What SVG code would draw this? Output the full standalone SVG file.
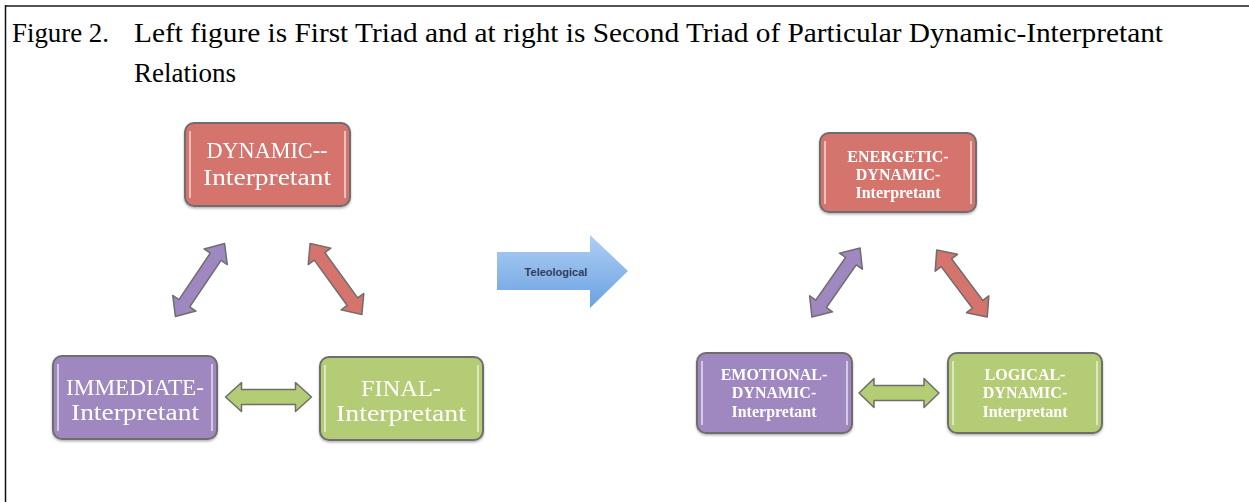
<svg xmlns="http://www.w3.org/2000/svg" width="1249" height="502" viewBox="0 0 1249 502">
<style>
.title{font-family:"Liberation Serif","Times New Roman",serif;font-size:27px;fill:#000}
.box{stroke:#6e6e6e;stroke-width:2}
.hl{stroke:#ffffff;stroke-opacity:0.55;stroke-width:2}
.bt{font-family:"Liberation Serif","DejaVu Serif",serif;font-size:24px;fill:#ffffff;text-anchor:middle}
.st{font-family:"Liberation Serif","DejaVu Serif",serif;font-size:16px;font-weight:bold;fill:#ffffff;text-anchor:middle}
.arr{stroke:#6e6e6e;stroke-width:1.5;stroke-linejoin:round}
.red{fill:#d5736d}
.pur{fill:#9f87bf}
.grn{fill:#b4cc74}
</style>
<defs>
<linearGradient id="blue" x1="0" y1="0" x2="0" y2="1">
<stop offset="0" stop-color="#afcff3"/>
<stop offset="1" stop-color="#6ba1e2"/>
</linearGradient>
<filter id="sh" x="-10%" y="-10%" width="120%" height="130%">
<feDropShadow dx="0" dy="1.5" stdDeviation="1.2" flood-color="#000" flood-opacity="0.3"/>
</filter>
</defs>
<rect x="0" y="0" width="1249" height="502" fill="#ffffff"/>
<line x1="5" y1="6" x2="1249" y2="6" stroke="#555" stroke-width="2"/>
<line x1="5.5" y1="5" x2="5.5" y2="502" stroke="#111" stroke-width="1.5"/>
<text class="title" x="12" y="42" textLength="97" lengthAdjust="spacingAndGlyphs">Figure 2.</text>
<text class="title" x="134" y="42" textLength="1029" lengthAdjust="spacingAndGlyphs">Left figure is First Triad and at right is Second Triad of Particular Dynamic-Interpretant</text>
<text class="title" x="134" y="82">Relations</text>

<g id="dynamic" filter="url(#sh)">
<rect class="box red" x="185" y="123" width="165" height="83" rx="9"/>
<line class="hl" x1="190" y1="131" x2="190" y2="198"/>
<line class="hl" x1="345" y1="131" x2="345" y2="198"/>
<text class="bt" x="267" y="158" textLength="121" lengthAdjust="spacingAndGlyphs">DYNAMIC--</text>
<text class="bt" x="267" y="185" textLength="128" lengthAdjust="spacingAndGlyphs">Interpretant</text>
</g>
<g id="immediate" filter="url(#sh)">
<rect class="box pur" x="53" y="356" width="164" height="83" rx="9"/>
<line class="hl" x1="58" y1="364" x2="58" y2="431"/>
<line class="hl" x1="212" y1="364" x2="212" y2="431"/>
<text class="bt" x="135" y="395" textLength="138" lengthAdjust="spacingAndGlyphs">IMMEDIATE-</text>
<text class="bt" x="135" y="420" textLength="128" lengthAdjust="spacingAndGlyphs">Interpretant</text>
</g>
<g id="final" filter="url(#sh)">
<rect class="box grn" x="320" y="357" width="163" height="83" rx="9"/>
<line class="hl" x1="325" y1="365" x2="325" y2="432"/>
<line class="hl" x1="478" y1="365" x2="478" y2="432"/>
<text class="bt" x="401" y="396" textLength="80" lengthAdjust="spacingAndGlyphs">FINAL-</text>
<text class="bt" x="401" y="421" textLength="130" lengthAdjust="spacingAndGlyphs">Interpretant</text>
</g>

<g id="teleological">
<path d="M497,252 L590,252 L590,235 L628,271 L590,308 L590,290 L497,290 Z" fill="url(#blue)"/>
<text x="556" y="276" font-family="'Liberation Sans','DejaVu Sans',sans-serif" font-size="11" font-weight="bold" fill="#2e3d5a" text-anchor="middle">Teleological</text>
</g>

<g id="energetic" filter="url(#sh)">
<rect class="box red" x="820" y="133" width="156" height="79" rx="9"/>
<line class="hl" x1="825" y1="141" x2="825" y2="204"/>
<line class="hl" x1="971" y1="141" x2="971" y2="204"/>
<text class="st" x="898" y="162">ENERGETIC-</text>
<text class="st" x="898" y="180">DYNAMIC-</text>
<text class="st" x="898" y="198">Interpretant</text>
</g>
<g id="emotional" filter="url(#sh)">
<rect class="box pur" x="697" y="353" width="155" height="80" rx="9"/>
<line class="hl" x1="702" y1="361" x2="702" y2="425"/>
<line class="hl" x1="847" y1="361" x2="847" y2="425"/>
<text class="st" x="774" y="380">EMOTIONAL-</text>
<text class="st" x="774" y="398">DYNAMIC-</text>
<text class="st" x="774" y="417">Interpretant</text>
</g>
<g id="logical" filter="url(#sh)">
<rect class="box grn" x="948" y="353" width="154" height="80" rx="9"/>
<line class="hl" x1="953" y1="361" x2="953" y2="425"/>
<line class="hl" x1="1097" y1="361" x2="1097" y2="425"/>
<text class="st" x="1025" y="380">LOGICAL-</text>
<text class="st" x="1025" y="398">DYNAMIC-</text>
<text class="st" x="1025" y="417">Interpretant</text>
</g>

<g id="connectors">
<path class="arr pur" transform="translate(200,280) rotate(-56)" d="M-44,0 L-28,-14 L-28,-6.5 L28,-6.5 L28,-14 L44,0 L28,14 L28,6.5 L-28,6.5 L-28,14 Z"/>
<path class="arr red" transform="translate(336,279) rotate(54)" d="M-44,0 L-28,-14 L-28,-6.5 L28,-6.5 L28,-14 L44,0 L28,14 L28,6.5 L-28,6.5 L-28,14 Z"/>
<path class="arr grn" transform="translate(268.5,397)" d="M-43,0 L-27,-14.5 L-27,-7.5 L27,-7.5 L27,-14.5 L43,0 L27,14.5 L27,7.5 L-27,7.5 L-27,14.5 Z"/>
<path class="arr pur" transform="translate(836,282.5) rotate(-55)" d="M-42,0 L-26,-14 L-26,-6.5 L26,-6.5 L26,-14 L42,0 L26,14 L26,6.5 L-26,6.5 L-26,14 Z"/>
<path class="arr red" transform="translate(962,283.5) rotate(53)" d="M-42,0 L-26,-14 L-26,-6.5 L26,-6.5 L26,-14 L42,0 L26,14 L26,6.5 L-26,6.5 L-26,14 Z"/>
<path class="arr grn" transform="translate(899,393)" d="M-40,0 L-25,-14.5 L-25,-7.5 L25,-7.5 L25,-14.5 L40,0 L25,14.5 L25,7.5 L-25,7.5 L-25,14.5 Z"/>
</g>
</svg>
